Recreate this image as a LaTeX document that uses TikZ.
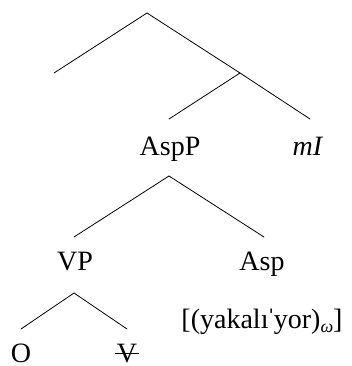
\documentclass[tikz,border=0pt]{standalone}
\usepackage{fontspec}
\setmainfont{Liberation Serif}
\usetikzlibrary{positioning,calc}

\begin{document}
\begin{tikzpicture}[
  x=1pt, y=-1pt,
  lab/.style={inner sep=0pt, anchor=base, font=\fontsize{28}{32}\selectfont},
  rama/.style={line width=0.8pt, line cap=round}
]
\useasboundingbox (0,0) rectangle (352,366);
% puntos de las ramas
\coordinate (raiz) at (147,13);
\coordinate (izq) at (54,73);
\coordinate (med) at (240,73);
\coordinate (der) at (310,119);
\coordinate (aspbot) at (169,119);
\coordinate (asptop) at (169,176);
\coordinate (vpend) at (74,237);
\coordinate (aspend) at (264,237);
\coordinate (vptop) at (74,293);
\coordinate (oend) at (21,329);
\coordinate (vend) at (127,329);
% etiquetas
\node[lab] (aspp) at (170,155) {AspP};
\node[lab] (mi) at (308,155) {\textit{mI}};
\node[lab] (vp) at (75,270) {VP};
\node[lab] (asp) at (262,270) {Asp};
\node[lab] (forma) at (262,328) {[(yakalı\kern-2ptˈ\kern-2ptyor)\raisebox{-0.35ex}{\fontsize{18}{20}\selectfont\itshape ω}]};
\node[lab] (o) at (21,362) {O};
\node[lab] (v) at (127,362) {V};
% ramas
\draw[rama] (raiz) -- (izq);
\draw[rama] (raiz) -- (med) -- (der);
\draw[rama] (med) -- (aspbot);
\draw[rama] (asptop) -- (vpend);
\draw[rama] (asptop) -- (aspend);
\draw[rama] (vptop) -- (oend);
\draw[rama] (vptop) -- (vend);
% V tachada
\draw[line width=0.8pt] ($(v.base west)+(-2,-9)$) -- ($(v.base east)+(2,-9)$);
\end{tikzpicture}
\end{document}
